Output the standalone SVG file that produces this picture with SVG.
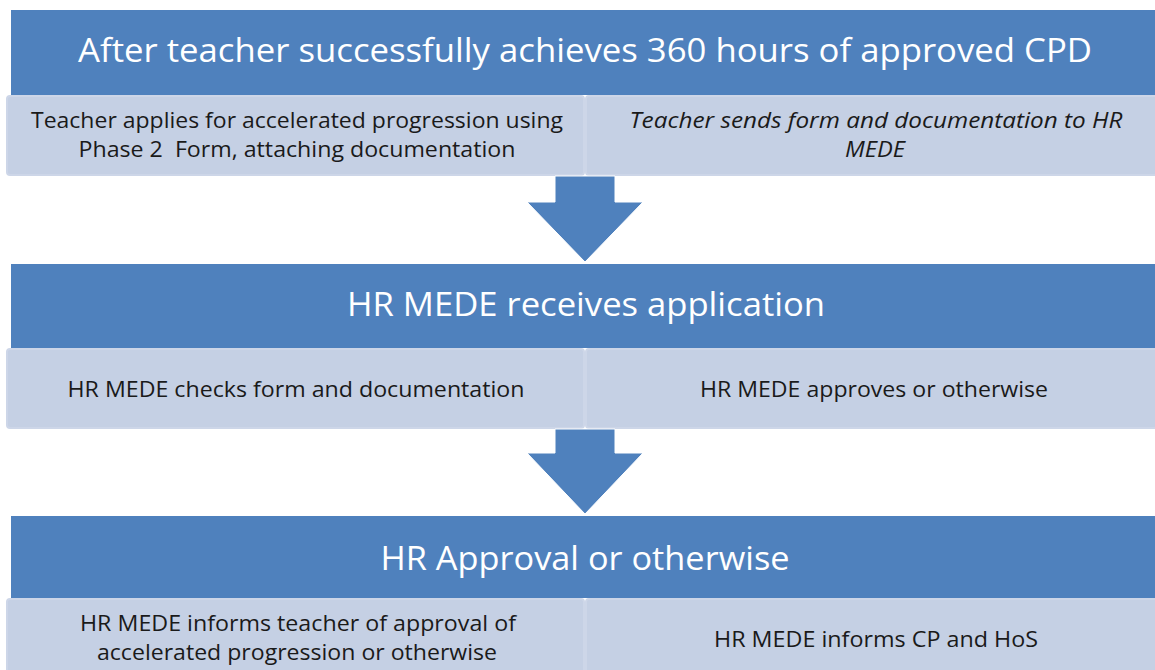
<svg xmlns="http://www.w3.org/2000/svg" width="1155" height="670" viewBox="0 0 1155 670">
  <style>
    .hdr { fill: #4F81BD; }
    .sub { fill: #C5D0E4; stroke: #CDD6E8; stroke-width: 2; }
    .arrow { fill: #4F81BD; stroke: #FFFFFF; stroke-width: 1; }
    .ht { font-family: "Open Sans", "Liberation Sans", Arial, sans-serif; font-size: 33px; fill: #FFFFFF; text-anchor: middle; }
    .st { font-family: "Open Sans", "Liberation Sans", Arial, sans-serif; font-size: 21px; fill: #1A1A1A; text-anchor: middle; }
    .it { font-style: italic; }
  </style>
  <rect width="1155" height="670" fill="#FFFFFF"/>

  <!-- Stage 1 -->
  <g id="stage1-header">
    <rect class="hdr" x="11" y="10" width="1150" height="85"/>
    <text class="ht" x="585" y="62" textLength="1014" lengthAdjust="spacingAndGlyphs">After teacher successfully achieves 360 hours of approved CPD</text>
  </g>
  <g id="stage1-apply">
    <rect class="sub" x="7" y="96" width="577" height="79" rx="3"/>
    <text class="st" x="297" y="128" textLength="532" lengthAdjust="spacingAndGlyphs">Teacher applies for accelerated progression using</text>
    <text class="st" x="297" y="157" textLength="437" lengthAdjust="spacingAndGlyphs" xml:space="preserve">Phase 2  Form, attaching documentation</text>
  </g>
  <g id="stage1-send">
    <rect class="sub" x="586" y="96" width="573" height="79" rx="3"/>
    <text class="st it" x="876" y="128" textLength="493" lengthAdjust="spacingAndGlyphs">Teacher sends form and documentation to HR</text>
    <text class="st it" x="875" y="157" textLength="60" lengthAdjust="spacingAndGlyphs">MEDE</text>
  </g>

  <!-- Stage 2 -->
  <g id="stage2-header">
    <rect class="hdr" x="11" y="264" width="1150" height="84"/>
    <text class="ht" x="586" y="316" textLength="478" lengthAdjust="spacingAndGlyphs">HR MEDE receives application</text>
  </g>
  <g id="stage2-check">
    <rect class="sub" x="7" y="349" width="577" height="79" rx="3"/>
    <text class="st" x="296" y="397" textLength="457" lengthAdjust="spacingAndGlyphs">HR MEDE checks form and documentation</text>
  </g>
  <g id="stage2-approve">
    <rect class="sub" x="586" y="349" width="573" height="79" rx="3"/>
    <text class="st" x="874" y="397" textLength="348" lengthAdjust="spacingAndGlyphs">HR MEDE approves or otherwise</text>
  </g>

  <!-- Stage 3 -->
  <g id="stage3-header">
    <rect class="hdr" x="11" y="516" width="1150" height="82"/>
    <text class="ht" x="585" y="570" textLength="409" lengthAdjust="spacingAndGlyphs">HR Approval or otherwise</text>
  </g>
  <g id="stage3-inform-teacher">
    <rect class="sub" x="7" y="599" width="577" height="80" rx="3"/>
    <text class="st" x="298" y="631" textLength="436" lengthAdjust="spacingAndGlyphs">HR MEDE informs teacher of approval of</text>
    <text class="st" x="297" y="660" textLength="400" lengthAdjust="spacingAndGlyphs">accelerated progression or otherwise</text>
  </g>
  <g id="stage3-inform-cp">
    <rect class="sub" x="586" y="599" width="573" height="80" rx="3"/>
    <text class="st" x="876" y="647" textLength="324" lengthAdjust="spacingAndGlyphs">HR MEDE informs CP and HoS</text>
  </g>

  <!-- Block arrows between stages -->
  <g id="connectors">
    <polygon class="arrow" points="555,176 615,176 615,202 643,202 585,262 527,202 555,202"/>
    <polygon class="arrow" points="555,429 615,429 615,453 643,453 585,514 527,453 555,453"/>
  </g>
</svg>
